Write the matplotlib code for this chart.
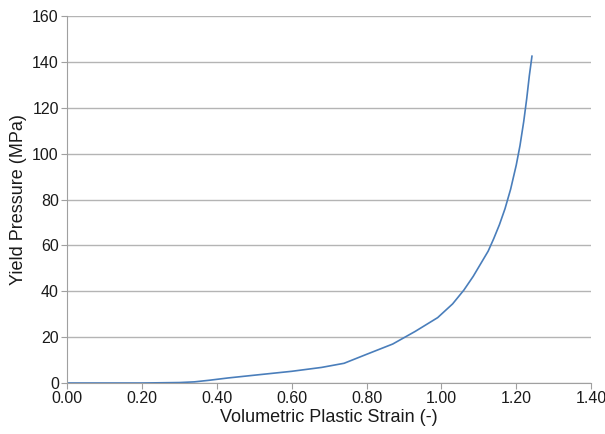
import matplotlib.pyplot as plt
import numpy as np

# Yield curve: volumetric plastic strain vs yield pressure
strain = [0.00, 0.10, 0.20, 0.30, 0.34, 0.38, 0.43, 0.50, 0.60, 0.68, 0.74,
          0.80, 0.87, 0.93, 0.99, 1.03, 1.06, 1.085, 1.105, 1.125, 1.14,
          1.155, 1.17, 1.185, 1.20, 1.21, 1.22, 1.228, 1.235, 1.242]
pressure = [0.0, 0.0, 0.0, 0.2, 0.5, 1.2, 2.2, 3.4, 5.1, 6.8, 8.6,
            12.5, 17.0, 22.5, 28.5, 34.5, 40.5, 46.5, 52.0, 57.5, 63.0,
            69.0, 76.0, 84.5, 95.0, 103.5, 114.0, 124.0, 134.0, 142.5]

plt.rcParams['font.family'] = ['Liberation Sans', 'DejaVu Sans']

fig = plt.figure(figsize=(6.05, 4.34), dpi=100)
ax = fig.add_axes([0.111, 0.1175, 0.866, 0.8455])

ax.plot(strain, pressure, color='#4a7ebb', linewidth=1.2)

ax.set_xlim(0, 1.4)
ax.set_ylim(0, 160)
ax.set_xticks(np.arange(0, 1.41, 0.2))
ax.set_xticklabels(['%.2f' % v for v in np.arange(0, 1.41, 0.2)])
ax.set_yticks(np.arange(0, 161, 20))

ax.grid(axis='y', color='#b4b4b4', linewidth=1.0)
ax.set_axisbelow(True)
for side in ['top', 'right']:
    ax.spines[side].set_visible(False)
for side in ['left', 'bottom']:
    ax.spines[side].set_color('#a0a0a0')
ax.tick_params(axis='both', colors='#a0a0a0', labelcolor='#1a1a1a',
               length=4, labelsize=11.5, pad=2)

ax.set_xlabel('Volumetric Plastic Strain (-)', fontsize=13, labelpad=2,
              color='#1a1a1a')
ax.set_ylabel('Yield Pressure (MPa)', fontsize=13, labelpad=4,
              color='#1a1a1a')

fig.savefig('out.png', dpi=100)
